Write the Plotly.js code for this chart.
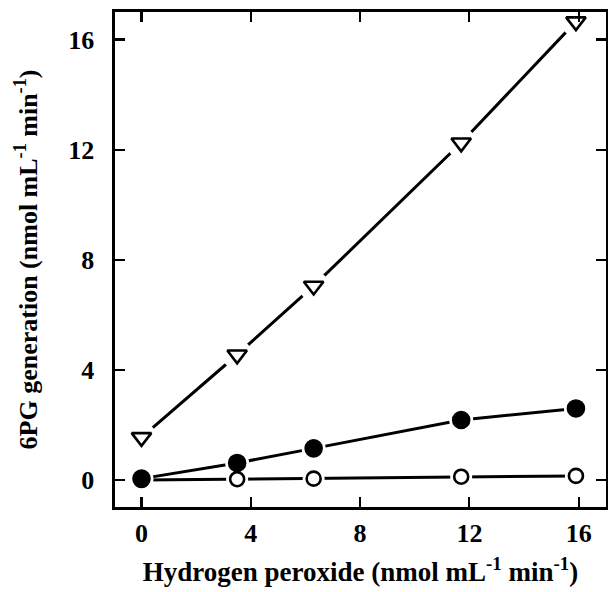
<!DOCTYPE html>
<html>
<head>
<meta charset="utf-8">
<script src="https://cdn.plot.ly/plotly-3.0.1.min.js"></script>
<style>html,body{margin:0;padding:0;background:#fff;}#chart{width:608px;height:592px;}</style>
</head>
<body>
<div id="chart"></div>
<script>
// Data
var peroxide = [0, 3.5, 6.3, 11.7, 15.9];
var seriesTriangle = [1.55, 4.55, 7.05, 12.25, 16.65];
var seriesFilled = [0.05, 0.62, 1.15, 2.18, 2.6];
var seriesOpen = [0.0, 0.03, 0.05, 0.12, 0.15];
var tickValues = [0, 4, 8, 12, 16];
var tickLabels = ['0', '4', '8', '12', '16'];

var FONT = 'Liberation Serif, Times New Roman, serif';

function lineTrace(y, haloSize, haloSymbol) {
  return {
    x: peroxide, y: y, mode: 'lines+markers', type: 'scatter',
    line: {color: '#000', width: 3},
    marker: {symbol: haloSymbol, size: haloSize, color: '#fff', line: {width: 0}},
    hoverinfo: 'skip', showlegend: false, cliponaxis: false
  };
}
function markerTrace(y, symbol, size, fill) {
  return {
    x: peroxide, y: y, mode: 'markers', type: 'scatter',
    marker: {symbol: symbol, size: size, color: fill, line: {color: '#000', width: 2.6}},
    showlegend: false, cliponaxis: false
  };
}

var data = [
  lineTrace(seriesOpen, 22, 'circle'),
  lineTrace(seriesFilled, 24, 'circle'),
  lineTrace(seriesTriangle, 30, 'circle'),
  markerTrace(seriesOpen, 'circle', 14, '#fff'),
  markerTrace(seriesFilled, 'circle', 16, '#000'),
  markerTrace(seriesTriangle, 'triangle-down', 17, '#fff')
];

var layout = {
  width: 608, height: 592,
  margin: {l: 115, r: 2, t: 12, b: 85},
  paper_bgcolor: '#fff', plot_bgcolor: '#fff',
  font: {family: FONT, color: '#000', size: 26},
  xaxis: {
    range: [-0.97, 17.0],
    tickmode: 'array', tickvals: tickValues, ticktext: tickLabels,
    ticks: 'inside', ticklen: 10, tickwidth: 2.2, tickcolor: '#000',
    showline: true, linewidth: 2.6, linecolor: '#000', mirror: 'ticks',
    showgrid: false, zeroline: false,
    ticklabelstandoff: 1,
    tickfont: {family: FONT, size: 26, weight: 'bold'},
    title: {text: 'Hydrogen peroxide (nmol mL<sup>-1</sup> min<sup>-1</sup>)', standoff: 16,
            font: {family: FONT, size: 27, weight: 'bold'}}
  },
  yaxis: {
    range: [-0.98, 17.0],
    tickmode: 'array', tickvals: tickValues, ticktext: tickLabels,
    ticks: 'inside', ticklen: 10, tickwidth: 2.2, tickcolor: '#000',
    showline: true, linewidth: 2.6, linecolor: '#000', mirror: 'ticks',
    showgrid: false, zeroline: false,
    ticklabelstandoff: 13,
    tickfont: {family: FONT, size: 26, weight: 'bold'},
    title: {text: '6PG generation (nmol mL<sup>-1</sup> min<sup>-1</sup>)', standoff: 23,
            font: {family: FONT, size: 26, weight: 'bold'}}
  }
};

Plotly.newPlot('chart', data, layout, {displayModeBar: false, staticPlot: true});
</script>
</body>
</html>
